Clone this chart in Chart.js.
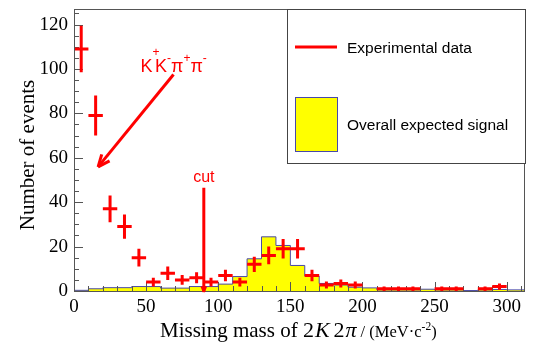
<!DOCTYPE html>
<html>
<head>
<meta charset="utf-8">
<script src="https://cdn.jsdelivr.net/npm/chart.js@4.4.0/dist/chart.umd.min.js"></script>
<style>
body { margin: 0; background: #fff; }
#box { width: 537px; height: 346px; }
</style>
</head>
<body>
<div id="box"><canvas id="myChart" width="537" height="346"></canvas></div>
<script>
// histogram of the expected signal, 10 MeV bins (left edges)
const binEdges = [0,10,20,30,40,50,60,70,80,90,100,110,120,130,140,150,160,170,180,190,200,210,220,230,240,250,260,270,280,290,300,310];
const expected = [0.3,1,1.5,1.5,2,2,1.3,1.3,2,2,3.1,6.5,14.5,24.4,20.5,11.5,6.7,3.4,2.7,1.7,1.4,0.5,0.5,0.5,0.8,0.5,0.5,0.2,0.5,0.7,0.5,0.5];

// experimental data points
const dataCenters = [5,15,25,35,45,55,65,75,85,95,105,115,125,135,145,155,165,175,185,195,215,225,235,255,265,285,295];
const dataCounts = [109,79,37,29,15,4,8,5,6,4,7,4,12,16,19,19,7,2.7,3.4,2.7,1,1,1,1,1,1,2];
const dataErrors = [10.5,9,6,5.5,4,2,3,2.2,2.5,2,2.6,2,3.4,4,4.4,4.4,2.6,1.6,1.8,1.6,1,1,1,1,1,1,1.4];
const binHalfWidth = 5;

const xTickLabels = [0,50,100,150,200,250,300];
const yTickLabels = [0,20,40,60,80,100,120];

// annotations (data units)
const cutX = 90;
const cutTop = 46.5;
const arrowFrom = [69, 97.5];
const arrowTo = [16.7, 55.9];

const red = "#ff0000";
const yellow = "#ffff00";
const blue = "rgb(72,72,170)";
const frameColor = "#555555";

const histPoints = binEdges.map((e, i) => ({x: e, y: expected[i]}));
histPoints.push({x: binEdges[binEdges.length - 1] + 10, y: expected[expected.length - 1]});

const crossPoints = [];
dataCenters.forEach((c, i) => {
    const v = dataCounts[i];
    const e = dataErrors[i];
    crossPoints.push({x: c - binHalfWidth, y: v}, {x: c + binHalfWidth, y: v}, {x: c, y: null});
    crossPoints.push({x: c, y: v - e}, {x: c, y: v + e}, {x: c, y: null});
});

const line = (ctx, x1, y1, x2, y2) => {
    ctx.beginPath();
    ctx.moveTo(x1, y1);
    ctx.lineTo(x2, y2);
    ctx.stroke();
};

const arrowHead = (ctx, fx, fy, tx, ty, len, ang) => {
    const a = Math.atan2(ty - fy, tx - fx);
    line(ctx, tx, ty, tx - len * Math.cos(a - ang), ty - len * Math.sin(a - ang));
    line(ctx, tx, ty, tx - len * Math.cos(a + ang), ty - len * Math.sin(a + ang));
};

const drawInsideTicks = (chart) => {
    const {ctx, chartArea, scales} = chart;
    ctx.save();
    ctx.strokeStyle = frameColor;
    ctx.lineWidth = 1;
    for (let v = 0; v <= 310; v += 10) {
        const px = Math.round(scales.x.getPixelForValue(v)) + 0.5;
        const len = v % 50 === 0 ? 9 : 5;
        line(ctx, px, chartArea.bottom, px, chartArea.bottom - len);
    }
    for (let v = 0; v <= 125; v += 5) {
        const py = Math.round(scales.y.getPixelForValue(v)) + 0.5;
        const len = v % 20 === 0 ? 9 : 5;
        line(ctx, chartArea.left, py, chartArea.left + len, py);
    }
    ctx.restore();
};

const overlay = {
    id: "overlay",
    afterDatasetDraw(chart, args) {
        if (args.index === 0) drawInsideTicks(chart);
    },
    afterDraw(chart) {
        const {ctx, chartArea, scales} = chart;
        const xs = scales.x, ys = scales.y;
        ctx.save();

        // frame
        ctx.strokeStyle = frameColor;
        ctx.lineWidth = 1;
        ctx.strokeRect(chartArea.left + 0.5, chartArea.top + 0.5,
            chartArea.right - chartArea.left, chartArea.bottom - chartArea.top);

        // cut line
        ctx.strokeStyle = red;
        ctx.lineWidth = 3;
        const cx = xs.getPixelForValue(cutX);
        const cTop = ys.getPixelForValue(cutTop);
        const cBot = ys.getPixelForValue(0) + 1;
        line(ctx, cx, cTop, cx, cBot);
        ctx.lineWidth = 2;
        arrowHead(ctx, cx, cTop, cx, cBot, 6, 0.4);
        ctx.fillStyle = red;
        ctx.font = "16px 'Liberation Sans'";
        ctx.textAlign = "center";
        ctx.textBaseline = "alphabetic";
        ctx.fillText("cut", cx, cTop - 6);

        // K+K-pi+pi- arrow
        ctx.lineWidth = 3;
        const fx = xs.getPixelForValue(arrowFrom[0]), fy = ys.getPixelForValue(arrowFrom[1]);
        const tx = xs.getPixelForValue(arrowTo[0]), ty = ys.getPixelForValue(arrowTo[1]);
        line(ctx, fx, fy, tx, ty);
        arrowHead(ctx, fx, fy, tx, ty, 13, 0.4);

        // K+K-pi+pi- label
        ctx.textAlign = "left";
        let px = fx - 33;
        const base = fy - 3;
        const parts = [["K", 0, 18], ["+", 16, 12], ["K", 0, 18], ["-", 10, 12], ["\u03c0", 0, 18], ["+", 10, 12], ["\u03c0", 0, 18], ["-", 10, 12]];
        parts.forEach(([t, raise, size]) => {
            ctx.font = size + "px 'Liberation Sans'";
            ctx.fillText(t, px, base - raise);
            px += ctx.measureText(t).width * (raise === 16 ? 0.35 : 1);
        });

        // legend
        const lx = chartArea.right - 237, ly = chartArea.top;
        ctx.fillStyle = "#fff";
        ctx.fillRect(lx, ly, 238, 154);
        ctx.strokeStyle = "#444";
        ctx.lineWidth = 1;
        ctx.strokeRect(lx + 0.5, ly + 0.5, 238, 154);
        ctx.strokeStyle = red;
        ctx.lineWidth = 3;
        line(ctx, lx + 8, ly + 38, lx + 50, ly + 38);
        ctx.fillStyle = yellow;
        ctx.fillRect(lx + 8, ly + 88, 42, 54);
        ctx.strokeStyle = blue;
        ctx.lineWidth = 1;
        ctx.strokeRect(lx + 8.5, ly + 88.5, 42, 54);
        ctx.fillStyle = "#000";
        ctx.font = "15.5px 'Liberation Sans'";
        ctx.fillText(chart.data.datasets[1].label, lx + 60, ly + 43.5);
        ctx.fillText(chart.data.datasets[0].label, lx + 60, ly + 120.5);

        // y title
        ctx.save();
        ctx.translate(34, (chartArea.top + chartArea.bottom) / 2 + 5);
        ctx.rotate(-Math.PI / 2);
        ctx.textAlign = "center";
        ctx.font = "21px 'Liberation Serif'";
        ctx.fillText("Number of events", 0, 0);
        ctx.restore();

        // x title
        const by = 337;
        let x = 160;
        ctx.textAlign = "left";
        const seg = (t, font, dx, dy) => {
            ctx.font = font;
            ctx.fillText(t, x, by - (dy || 0));
            x += ctx.measureText(t).width + (dx || 0);
        };
        seg("Missing mass of ", "21px 'Liberation Serif'", 0);
        seg("2", "22px 'Liberation Serif'", 1);
        seg("K", "italic 22px 'Liberation Serif'", 4);
        seg("2", "22px 'Liberation Serif'", 1);
        seg("\u03c0", "italic 22px 'Liberation Serif'", 4);
        seg("/ (MeV\u00b7c", "16.5px 'Liberation Serif'", 0);
        seg("-2", "11.5px 'Liberation Serif'", 0, 7);
        seg(")", "16.5px 'Liberation Serif'", 0);

        ctx.restore();
    }
};

const tickFont = {family: "'Liberation Serif'", size: 19};

new Chart(document.getElementById("myChart"), {
    type: "line",
    data: {
        datasets: [
            {
                label: "Overall expected signal",
                data: histPoints,
                stepped: "before",
                borderColor: blue,
                borderWidth: 1,
                backgroundColor: yellow,
                fill: "origin",
                pointRadius: 0,
                order: 2,
            },
            {
                label: "Experimental data",
                data: crossPoints,
                borderColor: red,
                borderWidth: 3,
                borderCapStyle: "butt",
                pointRadius: 0,
                spanGaps: false,
                fill: false,
                order: 1,
            },
        ],
    },
    options: {
        responsive: false,
        animation: false,
        events: [],
        layout: {padding: {left: 0, top: 9, right: 13, bottom: 0}},
        plugins: {legend: {display: false}, tooltip: {enabled: false}},
        scales: {
            x: {
                type: "linear",
                min: 0,
                max: 312,
                grid: {display: false, drawTicks: false},
                border: {display: false},
                ticks: {font: tickFont, color: "#000", padding: 5, maxRotation: 0, includeBounds: false},
                afterBuildTicks: (s) => { s.ticks = xTickLabels.map((v) => ({value: v})); },
                afterFit: (s) => { s.height = 55; s.paddingLeft = 0; s.paddingRight = 0; },
            },
            y: {
                type: "linear",
                min: 0,
                max: 127,
                grid: {display: false, drawTicks: false},
                border: {display: false},
                ticks: {font: tickFont, color: "#000", padding: 6, includeBounds: false},
                afterBuildTicks: (s) => { s.ticks = yTickLabels.map((v) => ({value: v})); },
                afterFit: (s) => { s.width = 74; s.paddingTop = 0; s.paddingBottom = 0; },
            },
        },
    },
    plugins: [overlay],
});
</script>
</body>
</html>
